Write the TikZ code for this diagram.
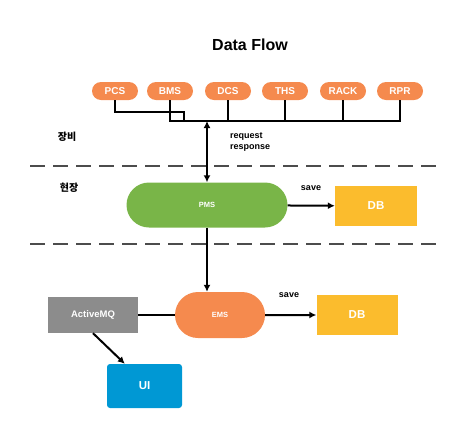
\documentclass[tikz,border=0pt]{standalone}
\usepackage{fontspec}
\setmainfont{Liberation Sans}
\newfontfamily\kr{Noto Sans CJK KR}
\usetikzlibrary{shapes.misc,arrows.meta}
\definecolor{pillorange}{HTML}{F58A4E}
\definecolor{pmsgreen}{HTML}{79B548}
\definecolor{dbyellow}{HTML}{FBBC2D}
\definecolor{mqgray}{HTML}{8C8C8C}
\definecolor{uiblue}{HTML}{0098D4}
\tikzset{
	pill/.style={rounded rectangle, fill=pillorange, text=white, font=\bfseries\fontsize{10}{11}\selectfont, minimum width=46pt, minimum height=18pt, inner sep=0pt},
	dbbox/.style={rectangle, fill=dbyellow, text=white, font=\bfseries\fontsize{11.5}{12}\selectfont, inner sep=0pt},
	wire/.style={black, line width=2pt},
	lane/.style={black!70, line width=1.5pt, dash pattern=on 15pt off 8pt},
	tag/.style={font=\bfseries\fontsize{9}{10}\selectfont, inner sep=0pt}
}
\begin{document}
\begin{tikzpicture}[x=1pt, y=-1pt, >={Latex[length=7pt,width=7pt]}]
		\useasboundingbox (0,0) rectangle (474,437);
		\node[font=\bfseries\fontsize{16}{18}\selectfont] (title) at (250,45) {Data Flow};
		% equipment
		\node[pill] (pcs) at (115,91) {PCS};
		\node[pill] (bms) at (170,91) {BMS};
		\node[pill] (dcs) at (228,91) {DCS};
		\node[pill] (ths) at (285,91) {THS};
		\node[pill] (rack) at (343,91) {RACK};
		\node[pill] (rpr) at (400,91) {RPR};
		\coordinate (bus) at (207,121);
		\coordinate (pcsbend) at (184,112);
		\draw[wire] (pcs) |- (pcsbend) -- (pcsbend |- bus);
		\draw[wire] (bms) -- (bms |- bus) -- (rpr |- bus) -- (rpr);
		\draw[wire] (dcs) -- (dcs |- bus);
		\draw[wire] (ths) -- (ths |- bus);
		\draw[wire] (rack) -- (rack |- bus);
		\node[tag, anchor=west, align=left] (reqres) at (230,142) {request\\[1pt]response};
		\node[font=\kr\bfseries\fontsize{10}{11}\selectfont] (equip) at (67,137) {장비};
		% lanes
		\coordinate (lane1l) at (30,166);
		\coordinate (lane1r) at (443,166);
		\coordinate (lane2l) at (30,244);
		\coordinate (lane2r) at (443,244);
		\draw[lane] (lane1l) -- (lane1r);
		\draw[lane] (lane2l) -- (lane2r);
		\node[font=\kr\bfseries\fontsize{10}{11}\selectfont] (site) at (69,188) {현장};
		% site
		\node[rounded rectangle, fill=pmsgreen, text=white, font=\bfseries\fontsize{7.5}{8}\selectfont, minimum width=161pt, minimum height=45pt, inner sep=0pt] (pms) at (207,205) {PMS};
		\node[dbbox, minimum width=82pt, minimum height=40pt] (db1) at (376,206) {DB};
		\node[tag, anchor=south] (save1) at (311,191) {save};
		\draw[wire, <->] (bus) -- (pms);
		\draw[wire, ->] (pms) -- (db1);
		% server
		\node[rounded rectangle, fill=pillorange, text=white, font=\bfseries\fontsize{7.5}{8}\selectfont, minimum width=90pt, minimum height=46pt, inner sep=0pt] (ems) at (220,315) {EMS};
		\node[rectangle, fill=mqgray, text=white, font=\bfseries\fontsize{9.5}{10}\selectfont, minimum width=90pt, minimum height=36pt, inner sep=0pt] (amq) at (93,315) {ActiveMQ};
		\node[dbbox, minimum width=81pt, minimum height=40pt] (db2) at (357,315) {DB};
		\node[rectangle, rounded corners=3pt, fill=uiblue, text=white, font=\bfseries\fontsize{11.5}{12}\selectfont, minimum width=75pt, minimum height=44pt, inner sep=0pt] (ui) at (144.5,386) {UI};
		\node[tag, anchor=south] (save2) at (289,298) {save};
		\draw[wire, ->] (pms.south) -- (pms.south |- ems.north);
		\draw[wire] (amq) -- (ems);
		\draw[wire, ->] (ems) -- (db2);
		\draw[wire, ->] (amq.south) -- ([xshift=18pt]ui.north west);
\end{tikzpicture}
\end{document}
